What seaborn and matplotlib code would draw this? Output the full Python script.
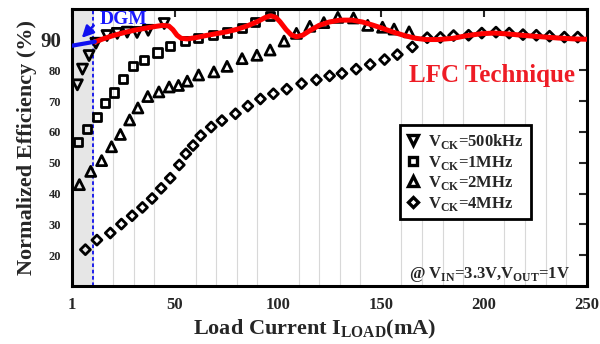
import numpy as np
import pandas as pd
import matplotlib
matplotlib.use("Agg")
import matplotlib.pyplot as plt
import seaborn as sns
from matplotlib.lines import Line2D

sns.set_style("white")
plt.rcParams['font.family'] = ['Liberation Serif', 'DejaVu Serif']
plt.rcParams['font.weight'] = 'bold'
plt.rcParams['mathtext.fontset'] = 'custom'
plt.rcParams['mathtext.rm'] = 'Liberation Serif:bold'
plt.rcParams['mathtext.bf'] = 'Liberation Serif:bold'

# ---- data ----
x_500k = [2.6, 5.1, 8.3, 11.6, 17.0, 22.0, 26.8, 31.6, 37.0, 44.8]
y_500k = [75.3, 80.4, 84.8, 88.8, 91.3, 92.0, 92.4, 92.3, 93.0, 95.2]

x_1m = [2.8, 7.1, 12.3, 16.1, 20.6, 24.8, 29.5, 35.0, 41.5, 47.8, 54.9, 61.3, 68.6, 75.3, 82.6, 89.0, 96.2]
y_1m = [56.6, 60.9, 65.0, 69.3, 72.8, 77.2, 81.4, 83.5, 85.8, 88.0, 89.4, 90.6, 91.5, 92.3, 93.8, 95.6, 97.6]

x_2m = [3.6, 9.1, 14.4, 19.2, 23.5, 28.0, 32.0, 36.8, 42.2, 47.2, 51.7, 56.0, 61.5, 68.9, 75.3,
        82.6, 89.8, 96.2, 103.0, 109.0, 115.5, 122.3, 129.1, 136.7, 143.6, 150.8, 156.4, 163.7]
y_2m = [42.9, 47.2, 50.7, 55.2, 59.2, 63.9, 67.8, 71.5, 73.0, 74.6, 75.1, 76.5, 78.5, 79.5, 81.3,
        83.8, 84.9, 86.6, 89.5, 92.0, 94.3, 95.5, 97.2, 97.0, 94.6, 94.0, 93.4, 92.5]

x_4m = [6.5, 12.1, 18.6, 24.0, 29.2, 34.2, 38.9, 43.3, 47.7, 52.1, 55.3, 58.8, 62.5, 67.6, 72.8,
        79.4, 85.4, 91.5, 97.8, 104.3, 111.5, 118.7, 125.1, 131.1, 138.0, 144.8, 151.8, 158.0,
        165.3, 172.5, 178.9, 185.3, 192.6, 199.0, 205.9, 212.3, 219.0, 225.5, 231.9, 239.1, 245.6]
y_4m = [21.8, 24.9, 27.2, 30.1, 32.8, 35.5, 38.4, 41.7, 45.0, 49.3, 52.9, 55.6, 58.8, 61.6, 63.7,
        65.9, 68.4, 70.7, 72.4, 73.9, 75.7, 76.9, 78.2, 79.0, 80.4, 81.9, 83.5, 85.1,
        87.6, 90.6, 90.7, 91.3, 91.4, 92.1, 92.4, 92.1, 91.6, 91.4, 91.1, 90.8, 90.8]

x_lfc = [11.1, 15, 20, 25, 30, 35, 40, 44, 47, 49, 51, 53, 56, 60, 65, 70, 75, 80, 85, 90, 94, 96.5,
         99, 101, 104, 106.5, 109, 112, 115, 120, 125, 130, 136, 141, 146, 151, 156, 162, 167, 172,
         178, 185, 192, 199, 205, 212, 220, 228, 236, 244, 250]
y_lfc = [89.2, 90.2, 91.3, 92.2, 93.0, 93.6, 94.2, 94.6, 94.4, 93.2, 91.4, 90.4, 90.2, 90.6, 91.3,
         91.9, 92.5, 93.3, 94.4, 95.8, 97.2, 97.7, 97.2, 95.8, 93.2, 91.5, 90.9, 91.4, 92.7, 94.6,
         95.7, 96.3, 96.3, 95.7, 94.7, 93.6, 92.4, 91.2, 90.4, 90.0, 90.0, 90.4, 91.3, 91.9, 92.1,
         91.8, 91.3, 90.9, 90.5, 90.2, 90.1]

x_dgm = [0, 11.1]
y_dgm = [88.0, 89.3]

labels = [r"V$_{\mathregular{CK}}$=500kHz", r"V$_{\mathregular{CK}}$=1MHz",
          r"V$_{\mathregular{CK}}$=2MHz", r"V$_{\mathregular{CK}}$=4MHz"]
xtick_vals = [0, 50, 100, 150, 200, 250]
xtick_labels = ["1", "50", "100", "150", "200", "250"]
ytick_vals = [20, 30, 40, 50, 60, 70, 80, 90]

# ---- figure ----
fig = plt.figure(figsize=(6.0, 3.44), dpi=100)
ax = fig.add_axes([0.12, 0.1686, 0.858, 0.806])

ax.set_xlim(0, 250)
ax.set_ylim(10, 100)

# grid
ax.set_xticks(np.arange(0, 251, 10), minor=True)
ax.set_yticks(np.arange(10, 101, 10), minor=True)
ax.grid(which='minor', color='#d8d8d8', lw=0.8, zorder=0)
ax.axvspan(0, 10, color='#e6e6e6', zorder=0.5, lw=0)
ax.axvline(10, color='#1010ee', ls=(0, (2, 1.5)), lw=1.3, zorder=1)

series = [
    (x_500k, y_500k, 'v', 52),
    (x_1m, y_1m, 's', 34),
    (x_2m, y_2m, '^', 52),
    (x_4m, y_4m, 'D', 26),
]
for (xs, ys, m, s), lab in zip(series, labels):
    df = pd.DataFrame({'x': xs, 'y': ys})
    sns.scatterplot(data=df, x='x', y='y', marker=m, s=s, fc='none', ec='black',
                    linewidths=2.0, ax=ax, zorder=3, clip_on=False)

df_l = pd.DataFrame({'x': x_lfc, 'y': y_lfc})
sns.lineplot(data=df_l, x='x', y='y', color='#ff0000', lw=3.6, ax=ax, zorder=4, sort=False)
df_d = pd.DataFrame({'x': x_dgm, 'y': y_dgm})
sns.lineplot(data=df_d, x='x', y='y', color='#1010f0', lw=3.0, ax=ax, zorder=4, sort=False)

ax.annotate("", xy=(3.8, 89.9), xytext=(11.5, 95.2),
            arrowprops=dict(arrowstyle='-|>,head_length=0.7,head_width=0.35', color='#1010f0', lw=1.8),
            zorder=5)
ax.text(13.2, 95.2, "DGM", color='#1a1aff', fontsize=14, fontweight='bold', va='baseline', zorder=5)
ax.text(163.7, 76.2, "LFC Technique", color='#ee1c25', fontsize=18, fontweight='bold',
        va='baseline', zorder=5)
ax.text(163.7, 12.5, r"@ V$_{\mathregular{IN}}$=3.3V,V$_{\mathregular{OUT}}$=1V", fontsize=12,
        fontweight='bold', va='baseline', zorder=5)

# ticks
ax.set_xticks(xtick_vals)
ax.set_xticklabels(xtick_labels, fontsize=12, fontweight='bold')
ax.set_yticks(ytick_vals)
ax.set_yticklabels([str(v) for v in ytick_vals], fontsize=9, fontweight='bold')
for t in ax.get_yticklabels():
    if t.get_text() == "90":
        t.set_fontsize(15)
ax.tick_params(which='major', direction='in', length=6, width=1.5, top=True, right=True,
               labeltop=False, labelright=False)
ax.tick_params(axis='x', pad=8)
ax.tick_params(axis='y', pad=8)
ax.tick_params(which='minor', length=0)
for sp in ax.spines.values():
    sp.set_linewidth(2.2)
    sp.set_color('black')
    sp.set_visible(True)

ax.set_xlabel(r"Load Current I$_{\mathregular{LOAD}}$(mA)", fontsize=16, fontweight='bold')
ax.xaxis.set_label_coords(0.472, -0.115)
ax.set_ylabel("Normalized Efficiency (%)", fontsize=16, fontweight='bold', labelpad=2)

handles = [Line2D([], [], ls='', marker=m, ms=np.sqrt(s) * 0.95, mfc='none', mec='black', mew=2.4)
           for (_, _, m, s) in series]
leg = ax.legend(handles, labels, loc='upper left', bbox_to_anchor=(0.637, 0.579),
                frameon=True, fancybox=False, edgecolor='black', framealpha=1,
                prop={'family': 'Liberation Serif', 'weight': 'bold', 'size': 12},
                handlelength=0.8, handletextpad=0.5, labelspacing=0.15, borderpad=0.4,
                borderaxespad=0)
leg.get_frame().set_linewidth(2.0)
leg.set_zorder(6)

fig.savefig("out.png", dpi=100)
